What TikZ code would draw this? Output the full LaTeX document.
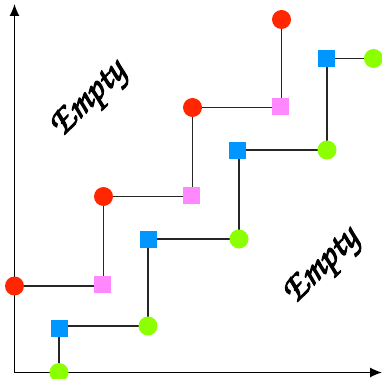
\documentclass[tikz,border=0pt]{standalone}
\usetikzlibrary{arrows.meta,backgrounds}
\definecolor{dotred}{RGB}{255,38,0}
\definecolor{sqpink}{RGB}{255,136,255}
\definecolor{sqblue}{RGB}{0,150,255}
\definecolor{dotgreen}{RGB}{140,255,0}
\newcommand{\chancery}{\fontencoding{T1}\fontfamily{pzc}\fontseries{mb}\fontshape{it}\fontsize{38}{38}\selectfont}
% heavier strokes: fill and outline the glyphs
\newcommand{\heavy}[1]{\special{pdf:code q 2 Tr 1.1 w 1 J 1 j}#1\special{pdf:code Q}}
\tikzset{
  reddot/.style={circle,fill=dotred,inner sep=0pt,minimum size=19pt},
  greendot/.style={circle,fill=dotgreen,inner sep=0pt,minimum size=19pt},
  pinksq/.style={rectangle,fill=sqpink,inner sep=0pt,minimum size=17pt},
  bluesq/.style={rectangle,fill=sqblue,inner sep=0pt,minimum size=17pt},
  link/.style={draw=black!85,line width=1.4pt},
  axis/.style={draw=black,line width=1.2pt,-{Latex[length=12pt,width=10pt]}},
  scriptlabel/.style={rotate=45,inner sep=0pt,font=\chancery}
}
\begin{document}
\begin{tikzpicture}[x=1pt,y=-1pt]
\useasboundingbox (0,0) rectangle (382,379);

% axes
\coordinate (origin) at (14.5,372.5);
\coordinate (ytip) at (14.5,4);
\coordinate (xtip) at (382,372.5);

% upper staircase
\node[reddot] (r1) at (14.5,286) {};
\node[reddot] (r2) at (103.5,196.5) {};
\node[reddot] (r3) at (192.5,107.5) {};
\node[reddot] (r4) at (281.5,19.5) {};
\node[pinksq] (p1) at (102.5,284.5) {};
\node[pinksq] (p2) at (191.5,195.5) {};
\node[pinksq] (p3) at (280.5,106.5) {};

% lower staircase
\node[greendot] (g1) at (59,372.5) {};
\node[greendot] (g2) at (148,326) {};
\node[greendot] (g3) at (239,239) {};
\node[greendot] (g4) at (327,150) {};
\node[greendot] (g5) at (373.5,58.5) {};
\node[bluesq] (b1) at (59.5,328.5) {};
\node[bluesq] (b2) at (148.5,239.5) {};
\node[bluesq] (b3) at (237.5,151) {};
\node[bluesq] (b4) at (326.5,58.5) {};

\begin{pgfonlayer}{background}
  \draw[axis] (origin) -- (ytip);
  \draw[axis] (origin) -- (xtip);
  % red/pink steps
  \draw[link] (r1.center) -- (r1.center -| p1.center);
  \draw[link] (r2.center) -- (r2.center |- p1.center);
  \draw[link] (r2.center) -- (r2.center -| p2.center);
  \draw[link] (r3.center) -- (r3.center |- p2.center);
  \draw[link] (r3.center) -- (r3.center -| p3.center);
  \draw[link] (r4.center) -- (r4.center |- p3.center);
  % green/blue steps
  \draw[link] (g1.center) -- (g1.center |- b1.center);
  \draw[link] (g2.center) -- (g2.center -| b1.center);
  \draw[link] (g2.center) -- (g2.center |- b2.center);
  \draw[link] (g3.center) -- (g3.center -| b2.center);
  \draw[link] (g3.center) -- (g3.center |- b3.center);
  \draw[link] (g4.center) -- (g4.center -| b3.center);
  \draw[link] (g4.center) -- (g4.center |- b4.center);
  \draw[link] (g5.center) -- (g5.center -| b4.center);
\end{pgfonlayer}

\node[scriptlabel] (emptyA) at (90,101) {\heavy{Empty}};
\node[scriptlabel] (emptyB) at (323,268) {\heavy{Empty}};
\end{tikzpicture}
\end{document}
